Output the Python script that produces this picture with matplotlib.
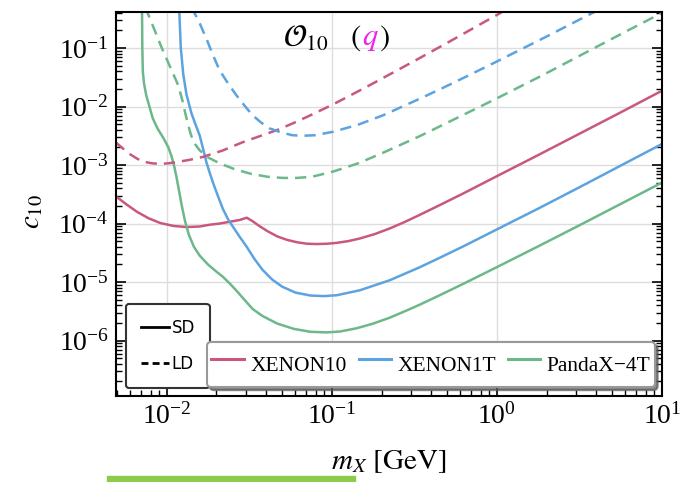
import numpy as np
import matplotlib
matplotlib.use('Agg')
import matplotlib.pyplot as plt
from matplotlib.lines import Line2D
from matplotlib.patches import Rectangle

# XENON10
x10_sd_lm = [-2.31, -2.25, -2.18, -2.11, -2.04, -1.96, -1.88, -1.80, -1.74, -1.68, -1.62, -1.56,
             -1.515, -1.48, -1.44, -1.39, -1.33, -1.27, -1.21, -1.15, -1.09, -1.03, -0.97, -0.90,
             -0.83, -0.74, -0.65, -0.56, -0.47, -0.35, -0.20, 0.0, 0.25, 0.5, 0.75, 1.0]
x10_sd_lc = [-3.53, -3.66, -3.80, -3.91, -3.99, -4.04, -4.06, -4.05, -4.02, -4.00, -3.97, -3.94,
             -3.90, -3.96, -4.04, -4.13, -4.22, -4.28, -4.32, -4.345, -4.35, -4.345, -4.33, -4.30,
             -4.255, -4.18, -4.085, -3.975, -3.855, -3.69, -3.48, -3.19, -2.83, -2.465, -2.10, -1.73]
x10_ld_lm = [-2.31, -2.26, -2.22, -2.18, -2.145, -2.09, -2.04, -1.99, -1.94, -1.86, -1.78, -1.66,
             -1.54, -1.43, -1.33, -1.23, -1.13, -0.99, -0.80, -0.59, -0.47, -0.30, -0.18, 0.05]
x10_ld_lc = [-2.61, -2.73, -2.82, -2.89, -2.94, -2.97, -2.98, -2.97, -2.95, -2.91, -2.86, -2.75,
             -2.61, -2.50, -2.40, -2.28, -2.15, -1.96, -1.68, -1.36, -1.175, -0.91, -0.72, -0.355]

# XENON1T
x1t_sd_lm = [-1.925, -1.915, -1.90, -1.88, -1.85, -1.82, -1.80, -1.78, -1.76, -1.74, -1.72, -1.69,
             -1.66, -1.63, -1.60, -1.56, -1.515, -1.47, -1.42, -1.36, -1.30, -1.22, -1.13, -1.05,
             -0.97, -0.83, -0.65, -0.47, -0.35, -0.20, 0.0, 0.25, 0.5, 0.75, 1.0]
x1t_sd_lc = [-0.30, -1.00, -1.45, -1.80, -2.12, -2.35, -2.50, -2.72, -2.95, -3.13, -3.30, -3.53,
             -3.75, -3.92, -4.05, -4.22, -4.40, -4.60, -4.79, -4.96, -5.08, -5.18, -5.23, -5.24,
             -5.225, -5.14, -4.97, -4.75, -4.59, -4.385, -4.10, -3.745, -3.38, -3.01, -2.64]
x1t_ld_lm = [-1.85, -1.80, -1.76, -1.72, -1.68, -1.63, -1.58, -1.53, -1.48, -1.43, -1.38, -1.31,
             -1.24, -1.18, -1.10, -0.99, -0.84, -0.69, -0.58, -0.47, -0.33, -0.18, 0.0, 0.3, 0.6]
x1t_ld_lc = [-0.30, -0.58, -0.84, -1.12, -1.38, -1.60, -1.80, -1.98, -2.15, -2.27, -2.37, -2.44,
             -2.49, -2.50, -2.49, -2.43, -2.31, -2.15, -2.01, -1.87, -1.685, -1.48, -1.23, -0.805,
             -0.37]

# PandaX-4T
p4t_sd_lm = [-2.150, -2.148, -2.145, -2.138, -2.125, -2.105, -2.085, -2.055, -2.02, -1.99, -1.97,
             -1.955, -1.94, -1.925, -1.91, -1.89, -1.865, -1.835, -1.80, -1.75, -1.70, -1.66,
             -1.62, -1.58, -1.53, -1.48, -1.42, -1.33, -1.23, -1.13, -1.03, -0.95, -0.85, -0.75,
             -0.65, -0.55, -0.47, -0.35, -0.20, 0.0, 0.25, 0.5, 0.75, 1.0]
p4t_sd_lc = [-0.30, -1.00, -1.40, -1.60, -1.80, -2.00, -2.20, -2.38, -2.54, -2.70, -2.86,
             -3.02, -3.22, -3.45, -3.68, -3.95, -4.20, -4.40, -4.55, -4.70, -4.82, -4.91,
             -5.02, -5.14, -5.30, -5.46, -5.58, -5.71, -5.80, -5.85, -5.86, -5.845, -5.79, -5.71,
             -5.61, -5.49, -5.39, -5.23, -5.025, -4.745, -4.39, -4.03, -3.665, -3.30]
p4t_ld_lm = [-2.13, -2.08, -2.03, -1.98, -1.93, -1.905, -1.885, -1.86, -1.84, -1.80, -1.75, -1.68,
             -1.59, -1.49, -1.39, -1.30, -1.21, -1.12, -0.99, -0.84, -0.69, -0.47, -0.18, 0.0,
             0.28, 0.55, 0.78, 1.0]
p4t_ld_lc = [-0.30, -0.65, -1.00, -1.32, -1.64, -1.90, -2.15, -2.42, -2.60, -2.75, -2.87, -2.97,
             -3.07, -3.15, -3.20, -3.22, -3.22, -3.20, -3.11, -2.97, -2.79, -2.51, -2.11, -1.86,
             -1.46, -1.06, -0.72, -0.40]

labels = ['XENON10', 'XENON1T', 'PandaX\u22124T']
colors = ['#c9587f', '#5ca3e0', '#6cb88a']

plt.rcParams['mathtext.fontset'] = 'stix'
plt.rcParams['font.family'] = ['Liberation Serif', 'DejaVu Serif']

fig = plt.figure(figsize=(6.81, 4.82), dpi=100)
ax = fig.add_axes([0.170, 0.178, 0.802, 0.797])

sd = [(x10_sd_lm, x10_sd_lc), (x1t_sd_lm, x1t_sd_lc), (p4t_sd_lm, p4t_sd_lc)]
ld = [(x10_ld_lm, x10_ld_lc), (x1t_ld_lm, x1t_ld_lc), (p4t_ld_lm, p4t_ld_lc)]
for (lm, lc), col in zip(sd, colors):
    ax.plot(10.0 ** np.array(lm), 10.0 ** np.array(lc), color=col, lw=1.8,
            solid_joinstyle='round')
for (lm, lc), col in zip(ld, colors):
    ax.plot(10.0 ** np.array(lm), 10.0 ** np.array(lc), color=col, lw=1.8,
            ls=(0, (4.5, 2.8)))

ax.set_xscale('log')
ax.set_yscale('log')
ax.set_xlim(4.91e-3, 10)
ax.set_ylim(1.12e-7, 0.412)
ax.grid(True, which='major', color='#dddddd', lw=1)
ax.set_axisbelow(True)

ax.tick_params(which='both', direction='in', left=True, right=True, bottom=True, top=False,
               labelsize=20)
ax.tick_params(which='major', length=7, width=1.2, pad=5)
ax.tick_params(which='minor', length=4, width=1)
for s in ax.spines.values():
    s.set_linewidth(1.5)

ax.set_xlabel(r'$m_X\ [\mathrm{GeV}]$', fontsize=21)
ax.xaxis.set_label_coords(0.5, -0.135)
ax.set_ylabel(r'$c_{10}$', fontsize=21)
ax.yaxis.set_label_coords(-0.13, 0.48)

t1 = ax.text(0.306, 0.912, r'$\mathcal{O}_{10}\ \ \ ($', transform=ax.transAxes,
             fontsize=22, va='baseline')
t2 = ax.annotate(r'$q$', xy=(1, 0), xycoords=t1, va='bottom', fontsize=22, color='#ee22ee')
ax.annotate(r'$)$', xy=(1, 0), xycoords=t2, va='bottom', fontsize=22)

# SD / LD legend
style_handles = [Line2D([], [], color='black', lw=2),
                 Line2D([], [], color='black', lw=2, ls=(0, (2.5, 1.5)))]
leg1 = ax.legend(style_handles, ['SD', 'LD'], loc='lower left',
                 bbox_to_anchor=(0.018, 0.021), borderaxespad=0,
                 prop={'family': 'DejaVu Sans', 'size': 12}, handlelength=1.7,
                 handletextpad=0.15, labelspacing=1.1, borderpad=0.9,
                 framealpha=1, edgecolor='#333333', fancybox=True)
leg1.get_frame().set_linewidth(1.5)
ax.add_artist(leg1)

exp_handles = [Line2D([], [], color=c, lw=2.2) for c in colors]
leg2 = ax.legend(exp_handles, labels, loc='lower left', ncol=3, mode='expand',
                 bbox_to_anchor=(0.167, 0.023, 0.82, 0.13), borderaxespad=0,
                 fontsize=15.5, handlelength=1.5, handleheight=2.25, handletextpad=0.3,
                 columnspacing=0.4, borderpad=0.2, framealpha=1, edgecolor='#999999',
                 fancybox=True, shadow={'color': '#555555', 'alpha': 0.7})
leg2.get_frame().set_linewidth(1.5)

# green strip at the bottom of the picture
fig.patches.append(Rectangle((107 / 681, 0), 248 / 681, 6 / 482, transform=fig.transFigure,
                             color='#8dcc4a', zorder=10))

fig.savefig('out.png', dpi=100)
